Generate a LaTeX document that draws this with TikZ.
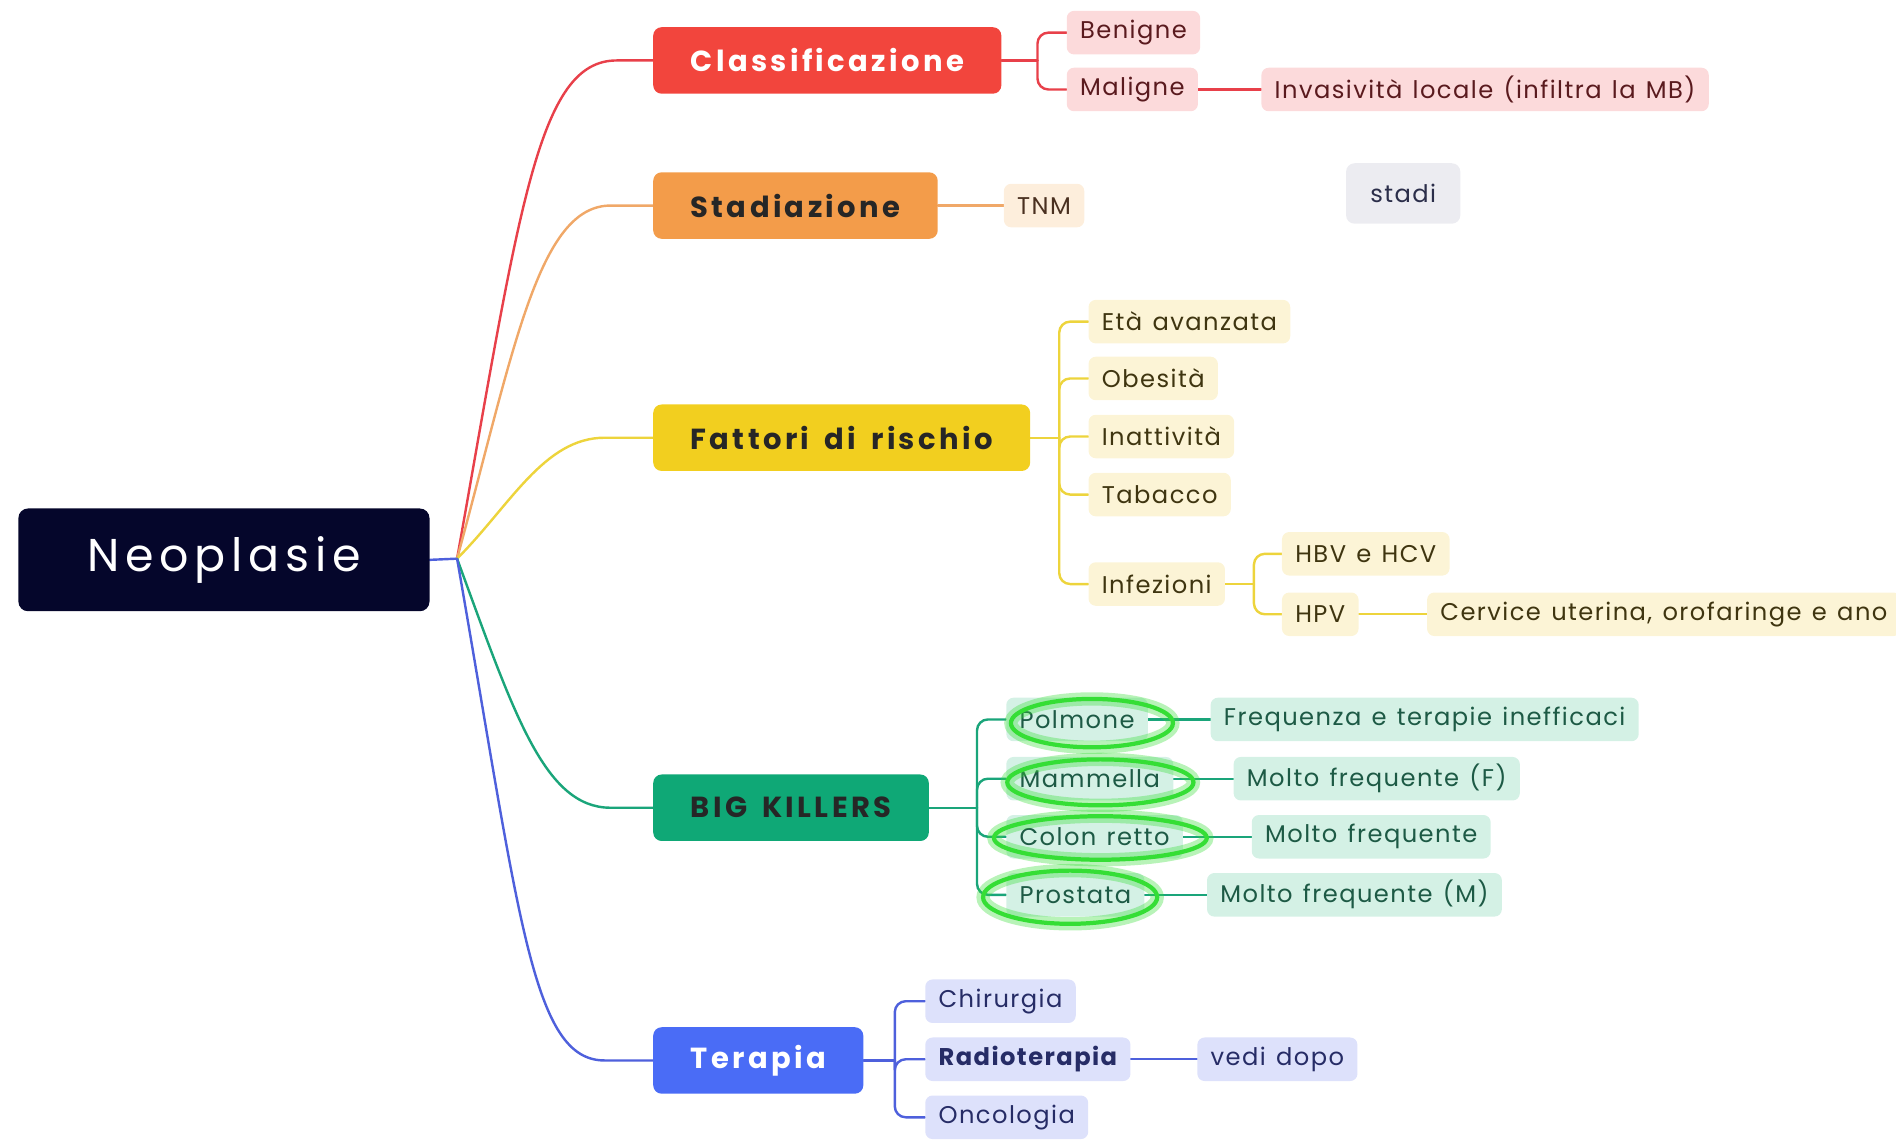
\documentclass[tikz,border=0pt]{standalone}
\usepackage{fontspec}
\setmainfont{Poppins}[LetterSpace=6,WordSpace=1.3]
\newfontfamily\mainfnt{Poppins}[LetterSpace=11.5,WordSpace=1.6]
\newfontfamily\rootfnt{Poppins}[LetterSpace=12.5]
\usetikzlibrary{backgrounds}
\definecolor{navy}{HTML}{05062B}
\definecolor{cRed}{HTML}{F2453D}
\definecolor{cRedL}{HTML}{E8404A}
\definecolor{cOra}{HTML}{F39C4A}
\definecolor{cOraL}{HTML}{F0A868}
\definecolor{cYel}{HTML}{F2CF1F}
\definecolor{cYelL}{HTML}{EDD43C}
\definecolor{cGre}{HTML}{0FA876}
\definecolor{cGreL}{HTML}{1AA57A}
\definecolor{cBlu}{HTML}{4A6CF6}
\definecolor{cBluL}{HTML}{4E60DC}
\definecolor{fPink}{HTML}{FCDADB}
\definecolor{tPink}{HTML}{5A1A1E}
\definecolor{fPeach}{HTML}{FDEEDC}
\definecolor{tPeach}{HTML}{4A3020}
\definecolor{fYel}{HTML}{FCF4D6}
\definecolor{tYel}{HTML}{3F3510}
\definecolor{fGre}{HTML}{D4F1E5}
\definecolor{tGre}{HTML}{1D5A45}
\definecolor{fLav}{HTML}{DDE1FB}
\definecolor{tLav}{HTML}{262C66}
\definecolor{fGrey}{HTML}{ECECF1}
\definecolor{tGrey}{HTML}{2B2E4A}
\definecolor{hiGreen}{HTML}{35DE35}
\begin{document}
\begin{tikzpicture}[x=1pt,y=-1pt,
  rootbox/.style={rectangle, rounded corners=8pt, fill=navy, text=white,
    font=\rootfnt\fontsize{38}{46}\selectfont, minimum height=85pt, minimum width=340pt, anchor=west},
  mainbox/.style={rectangle, rounded corners=7pt, minimum height=55pt, inner xsep=31pt,
    font=\mainfnt\fontsize{24}{29}\selectfont\bfseries, anchor=west},
  leaf/.style={rectangle, rounded corners=6pt, minimum height=36pt, inner xsep=11pt,
    font=\fontsize{20}{24}\selectfont, anchor=west},
  pinkleaf/.style={leaf, fill=fPink, text=tPink},
  peachleaf/.style={leaf, fill=fPeach, text=tPeach},
  yelleaf/.style={leaf, fill=fYel, text=tYel},
  greleaf/.style={leaf, fill=fGre, text=tGre},
  lavleaf/.style={leaf, fill=fLav, text=tLav},
  conn/.style={line width=2pt, line cap=round},
  bracket/.style={conn, rounded corners=9pt},
  glowring/.style={draw=hiGreen, opacity=0.35, line width=11pt},
  ring/.style={draw=hiGreen, line width=3.5pt}
]
\useasboundingbox (0,0) rectangle (1568,942);

% root
\node[rootbox] (root) at (15,463) {Neoplasie};
\coordinate (rj) at (378,462);

% main branches
\node[mainbox, fill=cRed, text=white] (cls) at (540,50) {Classificazione};
\node[mainbox, fill=cOra, text=black!85] (stad) at (540,170) {Stadiazione};
\node[mainbox, fill=cYel, text=black!85] (fat) at (540,362) {Fattori di rischio};
\node[mainbox, fill=cGre, text=black!85] (bk) at (540,668) {BIG KILLERS};
\node[mainbox, fill=cBlu, text=white] (ter) at (540,877) {Terapia};

% Classificazione
\coordinate (cj) at (858,50);
\node[pinkleaf] (ben) at (882,27) {Benigne};
\node[pinkleaf] (mal) at (882,74) {Maligne};
\node[pinkleaf] (inv) at (1043,74) {Invasività locale (infiltra la MB)};

% Stadiazione
\node[peachleaf] (tnm) at (830,170) {TNM};
\node[rectangle, rounded corners=7pt, fill=fGrey, text=tGrey, minimum height=50pt,
  inner xsep=20pt, font=\fontsize{20}{24}\selectfont, anchor=west] (stadi) at (1113,160) {stadi};

% Fattori di rischio
\coordinate (fj) at (876,362);
\node[yelleaf] (eta) at (900,266) {Età avanzata};
\node[yelleaf] (obe) at (900,313) {Obesità};
\node[yelleaf] (ina) at (900,361) {Inattività};
\node[yelleaf] (tab) at (900,409) {Tabacco};
\node[yelleaf] (inf) at (900,483) {Infezioni};
\coordinate (ij) at (1037,483);
\node[yelleaf] (hbv) at (1060,458) {HBV e HCV};
\node[yelleaf] (hpv) at (1060,508) {HPV};
\node[yelleaf] (cerv) at (1180,508) {Cervice uterina, orofaringe e ano};

% BIG KILLERS
\coordinate (bj) at (808,668);
\node[greleaf] (pol) at (832,595) {Polmone};
\node[greleaf] (mam) at (832,644) {Mammella};
\node[greleaf] (col) at (832,692) {Colon retto};
\node[greleaf] (pro) at (832,740) {Prostata};
\node[greleaf] (freq) at (1001,595) {Frequenza e terapie inefficaci};
\node[greleaf] (mff) at (1020,644) {Molto frequente (F)};
\node[greleaf] (mfr) at (1035,692) {Molto frequente};
\node[greleaf] (mfm) at (998,740) {Molto frequente (M)};

% Terapia
\coordinate (tj) at (740,877);
\node[lavleaf] (chi) at (765,828) {Chirurgia};
\node[lavleaf, font=\fontsize{20}{24}\selectfont\bfseries] (rad) at (765,876) {Radioterapia};
\node[lavleaf] (onc) at (765,924) {Oncologia};
\node[lavleaf] (vedi) at (990,876) {vedi dopo};

% connectors
\begin{scope}[on background layer]
\draw[conn, draw=cBluL] (root.east) -- (rj);
\draw[conn, draw=cRedL] (rj) .. controls (430,170) and (445,50) .. (510,50) -- (cls.west);
\draw[conn, draw=cOraL] (rj) .. controls (425,290) and (445,170) .. (505,170) -- (stad.west);
\draw[conn, draw=cYelL] (rj) .. controls (422,418) and (450,362) .. (500,362) -- (fat.west);
\draw[conn, draw=cGreL] (rj) .. controls (425,590) and (450,668) .. (505,668) -- (bk.west);
\draw[conn, draw=cBluL] (rj) .. controls (430,760) and (440,877) .. (500,877) -- (ter.west);

\draw[conn, draw=cRedL] (cls.east) -- (cj);
\draw[bracket, draw=cRedL] (cj) |- (ben.west);
\draw[bracket, draw=cRedL] (cj) |- (mal.west);
\draw[conn, draw=cRedL] (mal.east) -- (inv.west);

\draw[conn, draw=cOraL] (stad.east) -- (tnm.west);

\draw[conn, draw=cYelL] (fat.east) -- (fj);
\foreach \n in {eta,obe,ina,tab,inf} \draw[bracket, draw=cYelL] (fj) |- (\n.west);
\draw[conn, draw=cYelL] (inf.east) -- (ij);
\draw[bracket, draw=cYelL] (ij) |- (hbv.west);
\draw[bracket, draw=cYelL] (ij) |- (hpv.west);
\draw[conn, draw=cYelL] (hpv.east) -- (cerv.west);

\draw[conn, draw=cGreL] (bk.east) -- (bj);
\foreach \n in {pol,mam,col,pro} \draw[bracket, draw=cGreL] (bj) |- (\n.west);
\draw[conn, draw=cGreL] (pol.east) -- (freq.west);
\draw[conn, draw=cGreL] (mam.east) -- (mff.west);
\draw[conn, draw=cGreL] (col.east) -- (mfr.west);
\draw[conn, draw=cGreL] (pro.east) -- (mfm.west);

\draw[conn, draw=cBluL] (ter.east) -- (tj);
\foreach \n in {chi,rad,onc} \draw[bracket, draw=cBluL] (tj) |- (\n.west);
\draw[conn, draw=cBluL] (rad.east) -- (vedi.west);
\end{scope}

% highlight rings
\draw[glowring] (903,598) ellipse (67 and 20);
\draw[ring] (903,598) ellipse (67 and 20);
\draw[glowring] (910,647) ellipse (77 and 19);
\draw[ring] (910,647) ellipse (77 and 19);
\draw[glowring] (910,693) ellipse (88 and 18);
\draw[ring] (910,693) ellipse (88 and 18);
\draw[glowring] (885,742) ellipse (72 and 22);
\draw[ring] (885,742) ellipse (72 and 22);
\end{tikzpicture}
\end{document}
